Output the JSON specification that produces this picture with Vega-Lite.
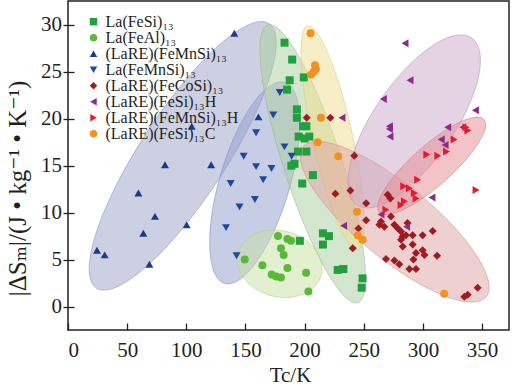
{
 "$schema": "https://vega.github.io/schema/vega-lite/v6.json",
 "width": 441, "height": 329,
 "autosize": {"type": "none"},
 "padding": {"left": 68, "top": 1, "right": 3, "bottom": 59},
 "background": "white",
 "config": {
  "view": {"stroke": "#231f20", "strokeWidth": 1.5},
  "font": "Liberation Serif, Times New Roman, DejaVu Serif, serif",
  "axis": {"labelFont": "Liberation Serif, Times New Roman, DejaVu Serif, serif", "titleFont": "Liberation Serif, Times New Roman, DejaVu Serif, serif", "labelColor": "#231f20", "titleColor": "#231f20", "tickColor": "#231f20", "tickWidth": 1.3, "domain": false, "grid": false, "labelFontSize": 21, "titleFontSize": 21, "titleFontWeight": "normal"},
  "legend": {"labelFont": "Liberation Serif, Times New Roman, DejaVu Serif, serif", "labelFontSize": 16, "labelColor": "#231f20", "symbolSize": 55, "rowPadding": -3, "labelOffset": 4, "labelLimit": 300, "padding": 0, "symbolStrokeWidth": 0}
 },
 "datasets": {
  "ell": [
   {"e":"E1","i":0,"T":170.0,"S":30.13},{"e":"E1","i":1,"T":176.07,"S":28.1},{"e":"E1","i":2,"T":170.12,"S":24.24},{"e":"E1","i":3,"T":153.03,"S":19.13},{"e":"E1","i":4,"T":127.4,"S":13.55},{"e":"E1","i":5,"T":97.15,"S":8.35},{"e":"E1","i":6,"T":66.88,"S":4.32},{"e":"E1","i":7,"T":41.19,"S":2.08},{"e":"E1","i":8,"T":24.0,"S":1.97},{"e":"E1","i":9,"T":17.93,"S":4.0},{"e":"E1","i":10,"T":23.88,"S":7.86},{"e":"E1","i":11,"T":40.97,"S":12.97},{"e":"E1","i":12,"T":66.6,"S":18.55},{"e":"E1","i":13,"T":96.85,"S":23.75},{"e":"E1","i":14,"T":127.12,"S":27.78},{"e":"E1","i":15,"T":152.81,"S":30.02},
   {"e":"E2","i":0,"T":183.18,"S":23.88},{"e":"E2","i":1,"T":192.1,"S":22.65},{"e":"E2","i":2,"T":195.79,"S":19.98},{"e":"E2","i":3,"T":193.69,"S":16.28},{"e":"E2","i":4,"T":186.14,"S":12.1},{"e":"E2","i":5,"T":174.27,"S":8.08},{"e":"E2","i":6,"T":159.89,"S":4.84},{"e":"E2","i":7,"T":145.2,"S":2.87},{"e":"E2","i":8,"T":132.42,"S":2.46},{"e":"E2","i":9,"T":123.5,"S":3.69},{"e":"E2","i":10,"T":119.81,"S":6.36},{"e":"E2","i":11,"T":121.91,"S":10.06},{"e":"E2","i":12,"T":129.46,"S":14.24},{"e":"E2","i":13,"T":141.33,"S":18.26},{"e":"E2","i":14,"T":155.71,"S":21.5},{"e":"E2","i":15,"T":170.4,"S":23.47},
   {"e":"E3","i":0,"T":244.89,"S":0.4},{"e":"E3","i":1,"T":250.92,"S":1.89},{"e":"E3","i":2,"T":250.23,"S":5.4},{"e":"E3","i":3,"T":242.95,"S":10.42},{"e":"E3","i":4,"T":230.16,"S":16.15},{"e":"E3","i":5,"T":213.83,"S":21.74},{"e":"E3","i":6,"T":196.43,"S":26.34},{"e":"E3","i":7,"T":180.62,"S":29.23},{"e":"E3","i":8,"T":168.81,"S":30.0},{"e":"E3","i":9,"T":162.78,"S":28.51},{"e":"E3","i":10,"T":163.47,"S":25.0},{"e":"E3","i":11,"T":170.75,"S":19.98},{"e":"E3","i":12,"T":183.54,"S":14.25},{"e":"E3","i":13,"T":199.87,"S":8.66},{"e":"E3","i":14,"T":217.27,"S":4.06},{"e":"E3","i":15,"T":233.08,"S":1.17},
   {"e":"E4","i":0,"T":214.06,"S":3.36},{"e":"E4","i":1,"T":208.62,"S":2.15},{"e":"E4","i":2,"T":198.67,"S":1.31},{"e":"E4","i":3,"T":185.71,"S":0.95},{"e":"E4","i":4,"T":171.72,"S":1.15},{"e":"E4","i":5,"T":158.83,"S":1.87},{"e":"E4","i":6,"T":149.01,"S":2.99},{"e":"E4","i":7,"T":143.74,"S":4.35},{"e":"E4","i":8,"T":143.84,"S":5.74},{"e":"E4","i":9,"T":149.28,"S":6.95},{"e":"E4","i":10,"T":159.23,"S":7.79},{"e":"E4","i":11,"T":172.19,"S":8.15},{"e":"E4","i":12,"T":186.18,"S":7.95},{"e":"E4","i":13,"T":199.07,"S":7.23},{"e":"E4","i":14,"T":208.89,"S":6.11},{"e":"E4","i":15,"T":214.16,"S":4.75},
   {"e":"E5","i":0,"T":244.88,"S":6.04},{"e":"E5","i":1,"T":249.58,"S":7.13},{"e":"E5","i":2,"T":250.36,"S":9.86},{"e":"E5","i":3,"T":247.08,"S":13.83},{"e":"E5","i":4,"T":240.25,"S":18.43},{"e":"E5","i":5,"T":230.9,"S":22.97},{"e":"E5","i":6,"T":220.48,"S":26.74},{"e":"E5","i":7,"T":210.54,"S":29.17},{"e":"E5","i":8,"T":202.62,"S":29.9},{"e":"E5","i":9,"T":197.92,"S":28.81},{"e":"E5","i":10,"T":197.14,"S":26.08},{"e":"E5","i":11,"T":200.42,"S":22.11},{"e":"E5","i":12,"T":207.25,"S":17.51},{"e":"E5","i":13,"T":216.6,"S":12.97},{"e":"E5","i":14,"T":227.02,"S":9.2},{"e":"E5","i":15,"T":236.96,"S":6.77},
   {"e":"E6","i":0,"T":353.52,"S":1.03},{"e":"E6","i":1,"T":340.04,"S":0.47},{"e":"E6","i":2,"T":316.84,"S":1.21},{"e":"E6","i":3,"T":287.45,"S":3.14},{"e":"E6","i":4,"T":256.34,"S":5.97},{"e":"E6","i":5,"T":228.25,"S":9.26},{"e":"E6","i":6,"T":207.46,"S":12.51},{"e":"E6","i":7,"T":197.12,"S":15.23},{"e":"E6","i":8,"T":198.82,"S":17.01},{"e":"E6","i":9,"T":212.3,"S":17.57},{"e":"E6","i":10,"T":235.5,"S":16.83},{"e":"E6","i":11,"T":264.89,"S":14.9},{"e":"E6","i":12,"T":296.0,"S":12.07},{"e":"E6","i":13,"T":324.09,"S":8.78},{"e":"E6","i":14,"T":344.88,"S":5.53},{"e":"E6","i":15,"T":355.22,"S":2.81},
   {"e":"E7","i":0,"T":341.25,"S":28.61},{"e":"E7","i":1,"T":348.2,"S":27.0},{"e":"E7","i":2,"T":346.71,"S":24.3},{"e":"E7","i":3,"T":336.97,"S":20.88},{"e":"E7","i":4,"T":320.49,"S":17.3},{"e":"E7","i":5,"T":299.77,"S":14.08},{"e":"E7","i":6,"T":277.97,"S":11.72},{"e":"E7","i":7,"T":258.4,"S":10.58},{"e":"E7","i":8,"T":244.05,"S":10.83},{"e":"E7","i":9,"T":237.1,"S":12.44},{"e":"E7","i":10,"T":238.59,"S":15.14},{"e":"E7","i":11,"T":248.33,"S":18.56},{"e":"E7","i":12,"T":264.81,"S":22.14},{"e":"E7","i":13,"T":285.53,"S":25.36},{"e":"E7","i":14,"T":307.33,"S":27.72},{"e":"E7","i":15,"T":326.9,"S":28.86},
   {"e":"E8","i":0,"T":351.64,"S":19.93},{"e":"E8","i":1,"T":352.58,"S":18.94},{"e":"E8","i":2,"T":346.63,"S":17.36},{"e":"E8","i":3,"T":334.74,"S":15.4},{"e":"E8","i":4,"T":318.67,"S":13.39},{"e":"E8","i":5,"T":300.9,"S":11.62},{"e":"E8","i":6,"T":284.13,"S":10.36},{"e":"E8","i":7,"T":270.9,"S":9.8},{"e":"E8","i":8,"T":263.24,"S":10.03},{"e":"E8","i":9,"T":262.3,"S":11.02},{"e":"E8","i":10,"T":268.25,"S":12.6},{"e":"E8","i":11,"T":280.14,"S":14.56},{"e":"E8","i":12,"T":296.21,"S":16.57},{"e":"E8","i":13,"T":313.98,"S":18.34},{"e":"E8","i":14,"T":330.75,"S":19.6},{"e":"E8","i":15,"T":343.98,"S":20.16}
  ],
  "pts": [
   {"s":"La(FeSi)₁₃","T":183,"S":28.1},{"s":"La(FeSi)₁₃","T":189.5,"S":26.3},{"s":"La(FeSi)₁₃","T":199.3,"S":24.4},{"s":"La(FeSi)₁₃","T":187.4,"S":24.1},{"s":"La(FeSi)₁₃","T":185.2,"S":23.1},{"s":"La(FeSi)₁₃","T":193.5,"S":21.0},{"s":"La(FeSi)₁₃","T":193.5,"S":20.1},{"s":"La(FeSi)₁₃","T":198.7,"S":19.2},{"s":"La(FeSi)₁₃","T":201.5,"S":19.2},{"s":"La(FeSi)₁₃","T":195,"S":18.1},{"s":"La(FeSi)₁₃","T":200,"S":17.9},{"s":"La(FeSi)₁₃","T":204,"S":18.1},{"s":"La(FeSi)₁₃","T":194.4,"S":16.5},{"s":"La(FeSi)₁₃","T":201.5,"S":16.5},{"s":"La(FeSi)₁₃","T":188.8,"S":15.0},{"s":"La(FeSi)₁₃","T":191.5,"S":15.2},{"s":"La(FeSi)₁₃","T":207,"S":14.0},{"s":"La(FeSi)₁₃","T":198,"S":13.1},{"s":"La(FeSi)₁₃","T":215.5,"S":7.8},{"s":"La(FeSi)₁₃","T":220.6,"S":7.5},{"s":"La(FeSi)₁₃","T":215.5,"S":6.6},{"s":"La(FeSi)₁₃","T":196,"S":7.0},{"s":"La(FeSi)₁₃","T":228,"S":3.9},{"s":"La(FeSi)₁₃","T":232.8,"S":4.0},{"s":"La(FeSi)₁₃","T":249,"S":3.0},{"s":"La(FeSi)₁₃","T":248.3,"S":2.0},
   {"s":"La(FeAl)₁₃","T":149.4,"S":5.0},{"s":"La(FeAl)₁₃","T":164.3,"S":4.4},{"s":"La(FeAl)₁₃","T":177.5,"S":7.5},{"s":"La(FeAl)₁₃","T":185.5,"S":7.2},{"s":"La(FeAl)₁₃","T":188.5,"S":7.0},{"s":"La(FeAl)₁₃","T":180,"S":6.2},{"s":"La(FeAl)₁₃","T":182.3,"S":5.5},{"s":"La(FeAl)₁₃","T":185.5,"S":4.1},{"s":"La(FeAl)₁₃","T":172.2,"S":3.4},{"s":"La(FeAl)₁₃","T":176,"S":3.2},{"s":"La(FeAl)₁₃","T":180,"S":3.1},{"s":"La(FeAl)₁₃","T":201.3,"S":3.6},{"s":"La(FeAl)₁₃","T":203.2,"S":1.6},
   {"s":"(LaRE)(FeMnSi)₁₃","T":140.6,"S":29.1},{"s":"(LaRE)(FeMnSi)₁₃","T":161,"S":20.2},{"s":"(LaRE)(FeMnSi)₁₃","T":104.6,"S":19.2},{"s":"(LaRE)(FeMnSi)₁₃","T":82,"S":15.1},{"s":"(LaRE)(FeMnSi)₁₃","T":121,"S":15.1},{"s":"(LaRE)(FeMnSi)₁₃","T":59.5,"S":12.1},{"s":"(LaRE)(FeMnSi)₁₃","T":73.5,"S":9.6},{"s":"(LaRE)(FeMnSi)₁₃","T":63.7,"S":7.8},{"s":"(LaRE)(FeMnSi)₁₃","T":24.5,"S":6.0},{"s":"(LaRE)(FeMnSi)₁₃","T":31,"S":5.5},{"s":"(LaRE)(FeMnSi)₁₃","T":68.8,"S":4.5},{"s":"(LaRE)(FeMnSi)₁₃","T":100.3,"S":8.7},
   {"s":"La(FeMnSi)₁₃","T":179,"S":22.8},{"s":"La(FeMnSi)₁₃","T":173.5,"S":20.4},{"s":"La(FeMnSi)₁₃","T":159,"S":18.5},{"s":"La(FeMnSi)₁₃","T":183,"S":17.0},{"s":"La(FeMnSi)₁₃","T":189,"S":16.0},{"s":"La(FeMnSi)₁₃","T":148.5,"S":16.0},{"s":"La(FeMnSi)₁₃","T":159,"S":14.9},{"s":"La(FeMnSi)₁₃","T":172,"S":14.7},{"s":"La(FeMnSi)₁₃","T":165,"S":13.5},{"s":"La(FeMnSi)₁₃","T":137.5,"S":13.1},{"s":"La(FeMnSi)₁₃","T":158,"S":11.4},{"s":"La(FeMnSi)₁₃","T":145,"S":10.6},{"s":"La(FeMnSi)₁₃","T":133.6,"S":8.4},{"s":"La(FeMnSi)₁₃","T":142.5,"S":5.4},
   {"s":"(LaRE)(FeCoSi)₁₃","T":201.8,"S":20.1},{"s":"(LaRE)(FeCoSi)₁₃","T":221.8,"S":20.1},{"s":"(LaRE)(FeCoSi)₁₃","T":242,"S":16.05},{"s":"(LaRE)(FeCoSi)₁₃","T":226,"S":12.0},{"s":"(LaRE)(FeCoSi)₁₃","T":238.7,"S":12.35},{"s":"(LaRE)(FeCoSi)₁₃","T":252,"S":11.0},{"s":"(LaRE)(FeCoSi)₁₃","T":252,"S":9.2},{"s":"(LaRE)(FeCoSi)₁₃","T":245.5,"S":8.3},{"s":"(LaRE)(FeCoSi)₁₃","T":240.7,"S":6.2},{"s":"(LaRE)(FeCoSi)₁₃","T":270.2,"S":11.9},{"s":"(LaRE)(FeCoSi)₁₃","T":272.5,"S":11.5},{"s":"(LaRE)(FeCoSi)₁₃","T":264.6,"S":9.05},{"s":"(LaRE)(FeCoSi)₁₃","T":263.2,"S":8.7},{"s":"(LaRE)(FeCoSi)₁₃","T":267.4,"S":8.5},{"s":"(LaRE)(FeCoSi)₁₃","T":275.9,"S":8.7},{"s":"(LaRE)(FeCoSi)₁₃","T":278.7,"S":8.35},{"s":"(LaRE)(FeCoSi)₁₃","T":281.5,"S":8.0},{"s":"(LaRE)(FeCoSi)₁₃","T":282.9,"S":7.45},{"s":"(LaRE)(FeCoSi)₁₃","T":285.7,"S":7.6},{"s":"(LaRE)(FeCoSi)₁₃","T":291.4,"S":7.6},{"s":"(LaRE)(FeCoSi)₁₃","T":299.8,"S":7.6},{"s":"(LaRE)(FeCoSi)₁₃","T":308.3,"S":8.05},{"s":"(LaRE)(FeCoSi)₁₃","T":281.5,"S":7.1},{"s":"(LaRE)(FeCoSi)₁₃","T":283,"S":6.4},{"s":"(LaRE)(FeCoSi)₁₃","T":291.4,"S":6.6},{"s":"(LaRE)(FeCoSi)₁₃","T":294.2,"S":5.7},{"s":"(LaRE)(FeCoSi)₁₃","T":299.8,"S":6.0},{"s":"(LaRE)(FeCoSi)₁₃","T":301.3,"S":5.5},{"s":"(LaRE)(FeCoSi)₁₃","T":312,"S":5.4},{"s":"(LaRE)(FeCoSi)₁₃","T":268.8,"S":5.05},{"s":"(LaRE)(FeCoSi)₁₃","T":275.9,"S":4.9},{"s":"(LaRE)(FeCoSi)₁₃","T":280.1,"S":4.5},{"s":"(LaRE)(FeCoSi)₁₃","T":288.6,"S":4.0},{"s":"(LaRE)(FeCoSi)₁₃","T":294.2,"S":4.0},{"s":"(LaRE)(FeCoSi)₁₃","T":337.9,"S":1.25},{"s":"(LaRE)(FeCoSi)₁₃","T":335,"S":1.05},{"s":"(LaRE)(FeCoSi)₁₃","T":346.3,"S":2.0},{"s":"(LaRE)(FeCoSi)₁₃","T":273,"S":9.6},{"s":"(LaRE)(FeCoSi)₁₃","T":287,"S":8.9},{"s":"(LaRE)(FeCoSi)₁₃","T":292,"S":5.0},
   {"s":"(LaRE)(FeSi)₁₃H","T":284.9,"S":28.05},{"s":"(LaRE)(FeSi)₁₃H","T":289.1,"S":24.1},{"s":"(LaRE)(FeSi)₁₃H","T":266.6,"S":22.1},{"s":"(LaRE)(FeSi)₁₃H","T":271.7,"S":19.2},{"s":"(LaRE)(FeSi)₁₃H","T":271.7,"S":18.9},{"s":"(LaRE)(FeSi)₁₃H","T":272.2,"S":18.1},{"s":"(LaRE)(FeSi)₁₃H","T":344.4,"S":20.9},{"s":"(LaRE)(FeSi)₁₃H","T":321,"S":19.1},{"s":"(LaRE)(FeSi)₁₃H","T":333.7,"S":19.1},{"s":"(LaRE)(FeSi)₁₃H","T":315.5,"S":17.8},{"s":"(LaRE)(FeSi)₁₃H","T":318.8,"S":17.2},{"s":"(LaRE)(FeSi)₁₃H","T":231.6,"S":20.1},{"s":"(LaRE)(FeSi)₁₃H","T":307.7,"S":11.6},{"s":"(LaRE)(FeSi)₁₃H","T":264.6,"S":9.8},{"s":"(LaRE)(FeSi)₁₃H","T":286.3,"S":8.5},{"s":"(LaRE)(FeSi)₁₃H","T":233,"S":8.6},
   {"s":"(LaRE)(FeMnSi)₁₃H","T":338,"S":18.75},{"s":"(LaRE)(FeMnSi)₁₃H","T":336.4,"S":19.1},{"s":"(LaRE)(FeMnSi)₁₃H","T":326.4,"S":17.8},{"s":"(LaRE)(FeMnSi)₁₃H","T":320,"S":16.5},{"s":"(LaRE)(FeMnSi)₁₃H","T":303.3,"S":16.2},{"s":"(LaRE)(FeMnSi)₁₃H","T":312.6,"S":16.05},{"s":"(LaRE)(FeMnSi)₁₃H","T":295.6,"S":13.5},{"s":"(LaRE)(FeMnSi)₁₃H","T":283.8,"S":12.8},{"s":"(LaRE)(FeMnSi)₁₃H","T":288.6,"S":12.6},{"s":"(LaRE)(FeMnSi)₁₃H","T":292.8,"S":12.1},{"s":"(LaRE)(FeMnSi)₁₃H","T":294.2,"S":11.5},{"s":"(LaRE)(FeMnSi)₁₃H","T":284.4,"S":11.2},{"s":"(LaRE)(FeMnSi)₁₃H","T":281.5,"S":10.8},{"s":"(LaRE)(FeMnSi)₁₃H","T":268.8,"S":10.3},{"s":"(LaRE)(FeMnSi)₁₃H","T":344.9,"S":12.4},
   {"s":"(LaRE)(FeSi)₁₃C","T":205,"S":29.1},{"s":"(LaRE)(FeSi)₁₃C","T":208.8,"S":25.7},{"s":"(LaRE)(FeSi)₁₃C","T":209.6,"S":25.3},{"s":"(LaRE)(FeSi)₁₃C","T":207.7,"S":25.0},{"s":"(LaRE)(FeSi)₁₃C","T":205.5,"S":24.7},{"s":"(LaRE)(FeSi)₁₃C","T":213.8,"S":20.1},{"s":"(LaRE)(FeSi)₁₃C","T":211,"S":17.5},{"s":"(LaRE)(FeSi)₁₃C","T":228.5,"S":16.0},{"s":"(LaRE)(FeSi)₁₃C","T":244.3,"S":10.1},{"s":"(LaRE)(FeSi)₁₃C","T":245,"S":7.6},{"s":"(LaRE)(FeSi)₁₃C","T":249,"S":7.1},{"s":"(LaRE)(FeSi)₁₃C","T":318,"S":1.35}
  ]
 },
 "encoding": {
  "x": {"field": "T", "type": "quantitative", "scale": {"domain": [0, 372.8], "nice": false, "zero": false},
        "axis": {"values": [0,50,100,150,200,250,300,350], "offset": -7, "tickSize": 7, "labelPadding": 9, "title": "Tc/K", "titleX": 222, "titleY": 58.7, "titleBaseline": "alphabetic", "titleAlign": "center"}},
  "y": {"field": "S", "type": "quantitative", "scale": {"domain": [-2.5, 32.54], "nice": false, "zero": false},
        "axis": {"values": [0,5,10,15,20,25,30], "offset": -6, "tickSize": 11, "labelPadding": 1.5, "title": "|ΔSₘ|/(J  •  kg⁻¹  •  K⁻¹)", "titleX": -49, "titleY": 187, "titleAngle": -90, "titleBaseline": "alphabetic", "titleAlign": "center", "titleFontSize": 25}}
 },
 "layer": [
  {
   "data": {"name": "ell"},
   "mark": {"type": "line", "interpolate": "cardinal-closed", "fillOpacity": 0.5, "strokeOpacity": 0.55, "strokeWidth": 1},
   "encoding": {
    "fill": {"field": "e", "type": "nominal", "legend": null, "scale": {"domain": ["E1","E2","E3","E4","E5","E6","E7","E8"], "range": ["#9ba1c7","#919bcd","#a9cd9b","#c7e1a1","#efdd91","#dfa1a1","#c7a7c7","#e58991"]}},
    "stroke": {"field": "e", "type": "nominal", "legend": null, "scale": {"domain": ["E1","E2","E3","E4","E5","E6","E7","E8"], "range": ["#8a90b8","#8089bd","#93b984","#b0cc8a","#dcc978","#cc8c8c","#b48fb4","#d67580"]}},
    "order": {"field": "i", "type": "quantitative"}
   }
  },
  {
   "data": {"name": "pts"},
   "mark": {"type": "point", "filled": true, "opacity": 1, "size": 64},
   "encoding": {
    "color": {"field": "s", "type": "nominal", "title": null,
      "scale": {"domain": ["La(FeSi)₁₃","La(FeAl)₁₃","(LaRE)(FeMnSi)₁₃","La(FeMnSi)₁₃","(LaRE)(FeCoSi)₁₃","(LaRE)(FeSi)₁₃H","(LaRE)(FeMnSi)₁₃H","(LaRE)(FeSi)₁₃C"],
                "range": ["#22a040","#5cb83a","#1b3a8c","#1f4a9c","#9e1b22","#8a2c8c","#e8192c","#f0921f"]},
      "legend": {"orient": "none", "legendX": 17.5, "legendY": 12.7, "title": null}},
    "shape": {"field": "s", "type": "nominal", "title": null,
      "scale": {"domain": ["La(FeSi)₁₃","La(FeAl)₁₃","(LaRE)(FeMnSi)₁₃","La(FeMnSi)₁₃","(LaRE)(FeCoSi)₁₃","(LaRE)(FeSi)₁₃H","(LaRE)(FeMnSi)₁₃H","(LaRE)(FeSi)₁₃C"],
                "range": ["square","circle","triangle-up","triangle-down","diamond","triangle-left","triangle-right","circle"]},
      "legend": {"orient": "none", "legendX": 17.5, "legendY": 12.7, "title": null}}
   }
  }
 ]
}
